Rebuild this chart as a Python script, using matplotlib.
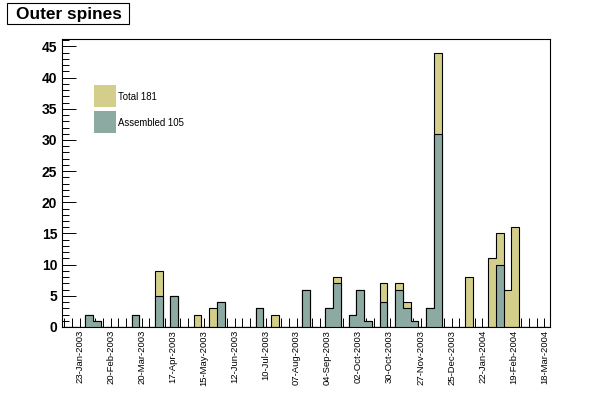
import matplotlib
matplotlib.use("Agg")
import matplotlib.pyplot as plt
import matplotlib.dates as mdates
from matplotlib.patches import Rectangle
from matplotlib.ticker import MultipleLocator, FixedLocator, NullFormatter
import pandas as pd

plt.rcParams['font.family'] = ['Liberation Sans', 'DejaVu Sans']

# weekly bins, first bin starts 07-Jan-2003
first_week = "2003-01-07"
n_weeks = 63

total = [0, 0, 0, 2, 1, 0, 0, 0, 0, 2,
         0, 0, 9, 0, 5, 0, 0, 2, 0, 3,
         4, 0, 0, 0, 0, 3, 0, 2, 0, 0,
         0, 6, 0, 0, 3, 8, 0, 2, 6, 1,
         0, 7, 0, 7, 4, 1, 0, 3, 44, 0,
         0, 0, 8, 0, 0, 11, 15, 6, 16, 0,
         0, 0, 0]

assembled = [0, 0, 0, 2, 1, 0, 0, 0, 0, 2,
             0, 0, 5, 0, 5, 0, 0, 0, 0, 0,
             4, 0, 0, 0, 0, 3, 0, 0, 0, 0,
             0, 6, 0, 0, 3, 7, 0, 2, 6, 1,
             0, 4, 0, 6, 3, 1, 0, 3, 31, 0,
             0, 0, 0, 0, 0, 0, 10, 0, 0, 0,
             0, 0, 0]

tick_labels = ["23-Jan-2003", "20-Feb-2003", "20-Mar-2003", "17-Apr-2003",
               "15-May-2003", "12-Jun-2003", "10-Jul-2003", "07-Aug-2003",
               "04-Sep-2003", "02-Oct-2003", "30-Oct-2003", "27-Nov-2003",
               "25-Dec-2003", "22-Jan-2004", "19-Feb-2004", "18-Mar-2004"]

khaki = "#d3cf8a"
grey = "#8ca9a2"

edges = mdates.date2num(pd.date_range(first_week, periods=n_weeks + 1, freq="7D"))
label_pos = mdates.date2num(pd.to_datetime(tick_labels, format="%d-%b-%Y"))
minor_pos = mdates.date2num(pd.date_range("2003-01-09", "2004-03-18", freq="7D"))

fig = plt.figure(figsize=(6.12, 3.93), dpi=100)
ax = fig.add_axes([62 / 612, 1 - 327 / 393, 488 / 612, 288 / 393])

ax.stairs(total, edges, fill=True, facecolor=khaki, edgecolor="black", linewidth=0.8)
ax.stairs(assembled, edges, fill=True, facecolor=grey, edgecolor="black", linewidth=0.8)

ax.set_xlim(edges[0], edges[-1])
ax.set_ylim(0, 46.2)
ax.set_axisbelow(True)

ax.xaxis.set_major_locator(FixedLocator(label_pos))
ax.set_xticklabels(tick_labels, rotation=90, fontsize=6.8)
ax.xaxis.set_minor_locator(FixedLocator(minor_pos))
ax.xaxis.set_minor_formatter(NullFormatter())
ax.tick_params(axis="x", which="both", direction="in", length=6.5, width=0.7,
               pad=2.2, top=False)

ax.yaxis.set_major_locator(MultipleLocator(5))
ax.yaxis.set_minor_locator(MultipleLocator(1))
ax.tick_params(axis="y", which="major", direction="in", length=10, width=0.7,
               pad=3.5, labelsize=10, right=False)
ax.tick_params(axis="y", which="minor", direction="in", length=5, width=0.7,
               right=False)
for lab in ax.get_yticklabels():
    lab.set_fontweight("bold")

for sp in ax.spines.values():
    sp.set_linewidth(0.8)

# title box
fig.patches.append(Rectangle((7 / 612, 1 - 23.5 / 393), 122 / 612, 21 / 393,
                             transform=fig.transFigure, facecolor="white",
                             edgecolor="black", linewidth=0.8))
fig.text(16 / 612, 1 - 14 / 393, "Outer spines", fontsize=12.4, fontweight="bold",
         va="center", ha="left")

# legend
fig.patches.append(Rectangle((94 / 612, 1 - 106.7 / 393), 22 / 612, 21.7 / 393,
                             transform=fig.transFigure, facecolor=khaki, edgecolor="none"))
fig.patches.append(Rectangle((94 / 612, 1 - 132.7 / 393), 22 / 612, 21.7 / 393,
                             transform=fig.transFigure, facecolor=grey, edgecolor="none"))
fig.text(118.5 / 612, 1 - 96.5 / 393, "Total 181", fontsize=6.9, va="center", ha="left")
fig.text(118.5 / 612, 1 - 122.5 / 393, "Assembled 105", fontsize=6.9, va="center", ha="left")

fig.savefig("out.png", dpi=100)
